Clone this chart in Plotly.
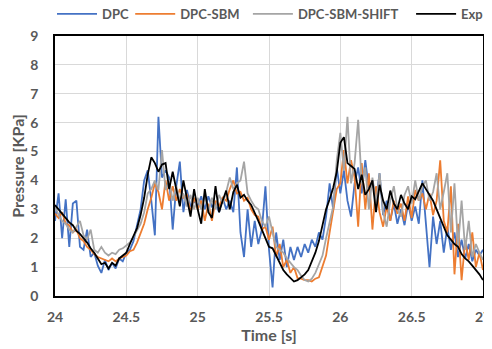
import numpy as np
import plotly.graph_objects as go

# sample times (s), 0.025 s spacing
time_s = np.round(24 + 0.025 * np.arange(121), 3)

dpc = [2.6, 3.55, 2.0, 3.35, 1.7, 3.2, 3.3, 1.7, 1.6, 2.3,
       1.35, 1.5, 1.05, 0.8, 1.25, 0.9, 1.15, 0.95, 1.3, 1.2,
       1.5, 1.6, 1.9, 2.4, 3.0, 4.0, 4.35, 3.3, 2.1, 6.2,
       4.1, 4.35, 4.1, 2.3, 3.8, 4.65, 2.9, 3.67, 3.1, 3.3,
       3.1, 3.45, 3.0, 3.45, 3.1, 3.2, 2.9, 3.4, 3.0, 3.3,
       2.9, 4.45, 2.2, 1.35, 3.0, 1.7, 2.6, 1.8, 2.3, 3.8,
       1.6, 0.3, 2.2, 1.25, 1.95, 1.0, 1.7, 1.25, 1.7, 1.35,
       1.8, 1.5, 1.95, 1.7, 2.2, 1.95, 2.75, 3.9, 3.0, 4.45,
       3.55, 4.35, 3.3, 2.75, 3.9, 4.45, 3.55, 4.7, 3.67, 4.0,
       3.3, 4.25, 2.8, 3.3, 2.6, 3.2, 2.5, 3.0, 2.45, 3.2,
       2.6, 3.1, 2.5, 4.0, 2.5, 1.0, 2.75, 1.8, 2.6, 1.5,
       2.4, 1.6, 2.2, 1.35, 1.95, 1.3, 1.8, 1.2, 1.6, 1.4,
       1.6]

dpc_sbm = [2.85, 2.7, 2.9, 2.5, 2.45, 2.2, 2.3, 2.0, 1.9, 1.7,
           1.6, 1.45, 1.35, 1.3, 1.25, 1.2, 1.3, 1.2, 1.3, 1.35,
           1.4, 1.55, 1.6, 1.85, 2.2, 2.5, 3.0, 3.4, 3.9, 3.6,
           3.0, 4.0, 3.3, 3.8, 3.3, 3.7, 3.4, 3.5, 2.9, 3.4,
           3.0, 3.3, 2.6, 3.2, 2.6, 3.3, 3.1, 3.4, 3.3, 3.7,
           4.0, 3.55, 3.6, 3.3, 3.4, 3.0, 2.8, 2.75, 2.3, 2.4,
           1.95, 2.4, 1.35, 1.8, 1.0, 1.25, 0.8, 1.0, 0.62, 0.6,
           0.55, 0.55, 0.5, 0.6, 0.65, 1.0, 1.4, 2.2, 3.0, 3.7,
           3.9, 5.05, 3.9, 4.7, 4.1, 2.4, 4.6, 3.0, 4.25, 2.3,
           3.8, 2.9, 2.4, 3.1, 2.6, 3.3, 2.85, 3.2, 2.6, 3.45,
           2.7, 3.67, 3.3, 3.55, 3.0, 3.55, 2.8, 3.3, 4.7, 2.6,
           2.2, 3.8, 0.75, 2.5, 0.55, 1.9, 1.25, 2.2, 1.0, 1.5,
           0.9]

dpc_sbm_shift = [3.1, 2.8, 2.6, 2.5, 2.3, 2.2, 2.4, 2.6, 2.1, 1.95,
                 2.3, 1.6, 1.5, 1.7, 1.5, 1.4, 1.5, 1.45, 1.6, 1.65,
                 1.75, 1.85, 2.05, 2.3, 2.5, 2.9, 3.55, 3.7, 4.0, 3.67,
                 5.05, 3.67, 4.0, 3.3, 3.8, 3.3, 3.55, 3.1, 3.5, 3.0,
                 3.4, 3.0, 3.5, 2.9, 3.4, 3.0, 3.5, 3.2, 3.6, 4.1,
                 3.7, 3.9, 4.0, 4.65, 3.55, 3.3, 3.1, 3.0, 2.6, 2.4,
                 2.75, 2.2, 1.7, 1.6, 1.5, 1.3, 1.15, 1.0, 0.9, 0.7,
                 0.55, 0.5, 0.6, 0.8, 1.1, 1.4, 2.0, 2.5, 3.1, 4.7,
                 5.65, 4.35, 6.2, 3.9, 4.6, 6.1, 3.9, 4.45, 3.0, 4.1,
                 3.2, 4.25, 2.9, 2.4, 3.3, 3.8, 3.0, 2.75, 3.5, 3.8,
                 3.2, 4.0, 3.3, 3.8, 4.0, 3.3, 3.6, 4.25, 3.0, 3.6,
                 4.25, 2.2, 3.9, 1.7, 3.3, 1.6, 2.6, 1.35, 1.8, 1.5,
                 1.25]

exp = [3.15, 3.0, 2.85, 2.7, 2.55, 2.45, 2.25, 2.15, 2.0, 1.85,
       1.65, 1.5, 1.3, 1.1, 1.15, 0.95, 1.15, 1.05, 1.3, 1.4,
       1.5, 1.8, 2.05, 2.35, 2.8, 3.4, 4.2, 4.8, 4.6, 4.3,
       4.55, 4.6, 3.7, 4.3, 3.7, 3.1, 4.0, 3.3, 2.75, 3.7,
       3.0, 2.5, 3.7, 2.9, 2.7, 3.8, 2.9, 3.3, 3.65, 3.0,
       3.6, 3.85, 3.4, 3.5, 3.3, 3.15, 2.9, 2.6, 2.3, 2.0,
       1.7, 1.65, 1.4, 1.15, 0.9, 0.75, 0.62, 0.5, 0.55, 0.65,
       0.75, 0.9, 1.2, 1.5, 1.9, 2.5, 3.0, 3.35, 3.75, 4.3,
       5.3, 5.5, 4.6, 4.5, 4.4, 3.7, 4.2, 3.5, 3.7, 4.0,
       2.9, 3.85, 3.3, 3.0, 3.65, 3.2, 3.0, 3.5, 3.2, 3.0,
       3.45, 3.35, 3.6, 3.9, 3.7, 3.5, 3.3, 3.0, 2.7, 2.4,
       2.1, 1.95, 1.8, 1.7, 1.45, 1.3, 1.2, 1.05, 0.9, 0.75,
       0.55]

x_tickvals = [24, 24.5, 25, 25.5, 26, 26.5, 27]
x_ticktext = ["24", "24.5", "25", "25.5", "26", "26.5", "27"]
y_tickvals = [0, 1, 2, 3, 4, 5, 6, 7, 8, 9]

series_names = ["DPC", "DPC-SBM", "DPC-SBM-SHIFT", "Exp"]
series_vals = [dpc, dpc_sbm, dpc_sbm_shift, exp]
series_colors = ["#4472C4", "#ED7D31", "#A5A5A5", "#000000"]
legend_ids = ["legend", "legend2", "legend3", "legend4"]
legend_x = [-0.007, 0.1757, 0.4507, 0.832]
legend_w = [80, 110, 150, 70]

font_main = "Lato, 'Open Sans', sans-serif"
grey_txt = "#595959"

fig = go.Figure()
for name, vals, col, lid in zip(series_names, series_vals, series_colors, legend_ids):
    fig.add_trace(go.Scatter(x=time_s, y=vals, mode="lines", name=name, legend=lid,
                             line=dict(color=col, width=1.8)))

# page body has an 8px offset, so the figure is 484x341 placed at (8, 8)
layout_kw = dict(
    width=484, height=341,
    margin=dict(l=47, r=9, t=28, b=53, autoexpand=False),
    paper_bgcolor="white", plot_bgcolor="white",
    font=dict(family=font_main, color=grey_txt, size=13),
    showlegend=True,
)
for lid, lx, lw in zip(legend_ids, legend_x, legend_w):
    layout_kw[lid] = dict(orientation="h", x=lx, xanchor="left",
                          y=1.085, yanchor="middle", itemwidth=40,
                          entrywidth=lw, entrywidthmode="pixels",
                          font=dict(family=font_main, size=13, color=grey_txt, weight="bold"),
                          bgcolor="rgba(0,0,0,0)", borderwidth=0)
fig.update_layout(**layout_kw)

fig.update_xaxes(range=[24, 27], tickvals=x_tickvals, ticktext=x_ticktext,
                 showgrid=True, gridcolor="#D9D9D9", gridwidth=1,
                 showline=True, linecolor="#000000", linewidth=1.5, mirror=True,
                 zeroline=False, ticks="", automargin=False, ticklabelstandoff=7,
                 ticklabeloverflow="allow",
                 tickfont=dict(family=font_main, size=14, color=grey_txt, weight="bold"),
                 title=dict(text="Time [s]", standoff=0,
                            font=dict(family=font_main, size=16, color=grey_txt, weight="bold")))
fig.update_yaxes(range=[0, 9], tickvals=y_tickvals,
                 showgrid=True, gridcolor="#D9D9D9", gridwidth=1,
                 showline=True, linecolor="#000000", linewidth=1.5, mirror=True,
                 zeroline=False, ticks="", automargin=False, ticklabelstandoff=12,
                 tickfont=dict(family=font_main, size=14, color=grey_txt, weight="bold"),
                 title=dict(text="Pressure [KPa]", standoff=6,
                            font=dict(family=font_main, size=16, color=grey_txt, weight="bold")))

fig.write_html("out.html")
